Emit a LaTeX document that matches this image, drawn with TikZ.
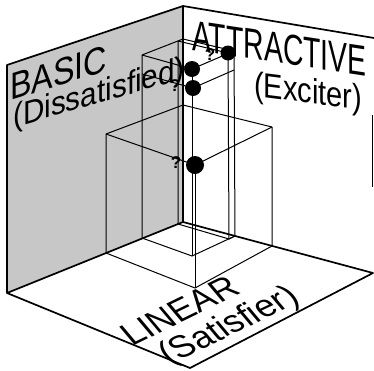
\documentclass[tikz,border=0pt]{standalone}
\usepackage{fontspec}
\setmainfont{Liberation Sans}
\newcommand{\qfont}{\fontsize{17}{17}\selectfont\bfseries}
\begin{document}
\begin{tikzpicture}[x=1pt,y=-1pt,
  edge/.style={line width=1.7pt, line join=round, line cap=round},
  boxline/.style={line width=1pt},
  ball/.style={circle, fill=black, inner sep=0pt},
  qmark/.style={inner sep=0pt},
  walltext/.style={inner sep=0pt, anchor=base west}]
\useasboundingbox (0,0) rectangle (374,370);
% frame corners
\coordinate (LWtl) at (7,65);
\coordinate (Ctop) at (183,6);
\coordinate (RWtr) at (374,38);
\coordinate (LWbl) at (7,293);
\coordinate (Cbot) at (183,222);
\coordinate (FR) at (373,273);
\coordinate (FF) at (190,368);
\coordinate (Sa) at (372,115);
\coordinate (Sb) at (372,187);
% box A
\coordinate (A0) at (183,105);
\coordinate (AL) at (106,134);
\coordinate (AR) at (272,127);
\coordinate (AF) at (195,165);
\coordinate (ALb) at (106,253);
\coordinate (ARb) at (272,246);
\coordinate (AFb) at (195,288);
% box B
\coordinate (B0) at (183,39);
\coordinate (BL) at (142,55);
\coordinate (BR) at (234,51);
\coordinate (BF) at (192,69);
\coordinate (BLb) at (142,238);
\coordinate (BRb) at (235,236);
\coordinate (BFb) at (192,256);
% slice C
\coordinate (CL) at (142,74);
\coordinate (CF) at (193,88);
\coordinate (CR) at (234,70);
% box D
\coordinate (DL) at (178,41);
\coordinate (DF) at (228,53);
\coordinate (DLb) at (178,224);
\coordinate (DFb) at (229,239);

% left wall shading
\fill[black!22] (LWtl) -- (Ctop) -- (Cbot) -- (LWbl) -- cycle;

% wall texts
\node[walltext, cm={0.85,0.264,0,1,(0,0)}, font=\fontsize{38}{38}\selectfont] (basic) at (10,101) {BASIC};
\node[walltext, cm={0.9,0.26,0,1,(0,0)}, font=\fontsize{33}{33}\selectfont] (diss) at (13,128) {(Dissatisfied)};
\node[walltext, cm={0.66,-0.1,0,1,(0,0)}, font=\fontsize{43}{43}\selectfont] (attr) at (192,50) {ATTRACTIVE};
\node[walltext, cm={0.83,-0.105,0,1,(0,0)}, font=\fontsize{35}{35}\selectfont] (exc) at (254,96) {(Exciter)};
\node[walltext, cm={1.016,0.495,-0.74,0.88,(0,0)}, font=\fontsize{30}{30}\selectfont] (lin) at (132,347) {LINEAR};
\node[walltext, cm={1.03,0.49,-0.74,0.88,(0,0)}, font=\fontsize{30}{30}\selectfont] (sat) at (169,365) {(Satisfier)};

% box lines
\draw[boxline] (AL) -- (A0) -- (AR);
\draw[boxline] (AL) -- (AF) -- (AR);
\draw[boxline] (AL) -- (ALb) -- (AFb) -- (ARb) -- (AR);
\draw[boxline] (AF) -- (AFb);
\draw[boxline] (BL) -- (B0) -- (BR);
\draw[boxline] (BL) -- (BF) -- (BR);
\draw[boxline] (BL) -- (BLb) -- (BFb) -- (BRb) -- (BR);
\draw[boxline] (BF) -- (BFb);
\draw[boxline] (CL) -- (CF) -- (CR);
\draw[boxline] (DL) -- (DF) -- (BR);
\draw[boxline] (DL) -- (DLb) -- (DFb) -- (BRb);
\draw[boxline] (DF) -- (DFb);

% frame
\draw[edge] (LWbl) -- (LWtl) -- (Ctop) -- (Cbot) -- (LWbl) -- (FF) -- (FR) -- (Cbot);
\draw[edge] (Ctop) -- (RWtr);
\draw[line width=0.7pt] (Sa) -- (Sb);

% balls
\node[ball, minimum size=15pt] (b1) at (DF) {};
\node[ball, minimum size=16pt] (b2) at (BF) {};
\node[ball, minimum size=16pt] (b3) at (CF) {};
\node[ball, minimum size=18pt] (b4) at (AF) {};
\node[qmark] (q1) at (210,55) {\qfont ?};
\node[qmark] (q3) at (175,86) {\qfont ?};
\node[qmark] (q4) at (176,163) {\qfont ?};
\end{tikzpicture}
\end{document}
